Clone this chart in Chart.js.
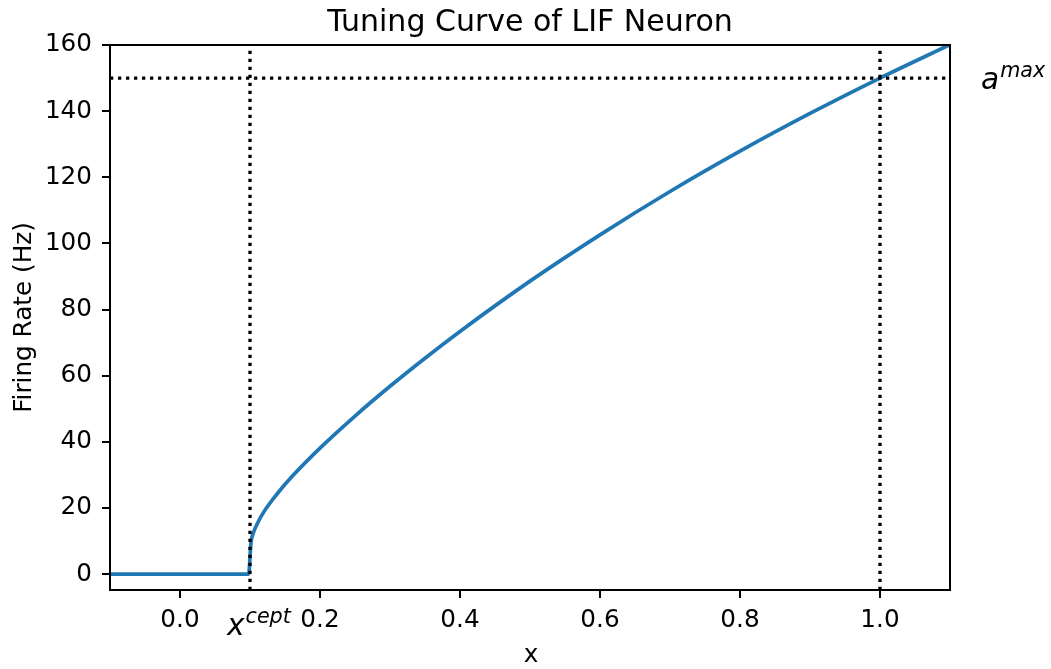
<!DOCTYPE html>
<html>
<head>
<meta charset="utf-8">
<script src="https://cdn.jsdelivr.net/npm/chart.js@4/dist/chart.umd.min.js"></script>
<style>
  html, body { margin: 0; padding: 0; background: #ffffff; }
  #wrap { width: 1051px; height: 669px; }
</style>
</head>
<body>
<div id="wrap"><canvas id="c" width="1051" height="669"></canvas></div>
<script>
// ---- data ----
const xInput = [-0.1, 0.098, 0.1015, 0.105, 0.11, 0.12, 0.14, 0.16, 0.2, 0.25, 0.3, 0.35, 0.4, 0.5, 0.6, 0.7, 0.8, 0.9, 1.0, 1.1];
const firingRate = [0, 0, 9.7, 12.6, 15.1, 18.9, 24.6, 29.5, 38.1, 47.8, 56.8, 65.3, 73.4, 88.6, 102.6, 115.7, 127.9, 139.3, 150.0, 160.1];
const xCept = 0.1;
const xMaxInput = 1.0;
const aMax = 150;
const xTicks = [0.0, 0.2, 0.4, 0.6, 0.8, 1.0];
const yTicks = [0, 20, 40, 60, 80, 100, 120, 140, 160];
const xRange = [-0.1, 1.1];
const yRange = [-4.8, 160];

const FONT = "'DejaVu Sans', sans-serif";

const curve = xInput.map((x, i) => ({ x: x, y: firingRate[i] }));
const vLine1 = [{ x: xCept, y: yRange[0] }, { x: xCept, y: yRange[1] }];
const vLine2 = [{ x: xMaxInput, y: yRange[0] }, { x: xMaxInput, y: yRange[1] }];
const hLine = [{ x: xRange[0], y: aMax }, { x: xRange[1], y: aMax }];

const dotted = {
  borderColor: '#000000', borderWidth: 3.3, borderDash: [3.3, 4.7], borderCapStyle: 'butt',
  pointRadius: 0, fill: false, tension: 0, order: 0
};

const textPlugin = {
  id: 'texts',
  afterDraw(chart) {
    const ctx = chart.ctx;
    const a = chart.chartArea;
    const xs = chart.scales.x, ys = chart.scales.y;
    ctx.save();
    // frame (top & right spines)
    ctx.strokeStyle = '#000'; ctx.lineWidth = 2;
    ctx.strokeRect(a.left, a.top, a.right - a.left, a.bottom - a.top);
    ctx.fillStyle = '#000';
    // title
    ctx.font = '30px ' + FONT;
    ctx.textAlign = 'center'; ctx.textBaseline = 'alphabetic';
    ctx.fillText('Tuning Curve of LIF Neuron', (a.left + a.right) / 2, 31);
    // x label
    ctx.font = '24.7px ' + FONT;
    ctx.fillText('x', (a.left + a.right) / 2 + 1, 662);
    // y label
    ctx.save();
    ctx.translate(31, (a.top + a.bottom) / 2);
    ctx.rotate(-Math.PI / 2);
    ctx.fillText('Firing Rate (Hz)', 0, 0);
    ctx.restore();
    // x^cept annotation
    ctx.textAlign = 'left';
    const xc = xs.getPixelForValue(xCept) - 23;
    ctx.font = 'italic 29.6px ' + FONT;
    ctx.fillText('x', xc, a.bottom + 45);
    let w = ctx.measureText('x').width;
    ctx.font = 'italic 20.7px ' + FONT;
    ctx.fillText('cept', xc + w + 1, a.bottom + 33);
    // a^max annotation
    const ya = ys.getPixelForValue(aMax);
    const xa = a.right + 31;
    ctx.font = 'italic 29.6px ' + FONT;
    ctx.fillText('a', xa, ya + 11);
    w = ctx.measureText('a').width;
    ctx.font = 'italic 20.7px ' + FONT;
    ctx.fillText('max', xa + w + 1, ya - 1);
    ctx.restore();
  }
};

new Chart(document.getElementById('c'), {
  type: 'line',
  data: {
    datasets: [
      { data: vLine1, ...dotted },
      { data: vLine2, ...dotted },
      { data: hLine, ...dotted },
      { data: curve, borderColor: '#1f77b4', borderWidth: 3.7, pointRadius: 0, fill: false,
        cubicInterpolationMode: 'monotone', order: 1 }
    ]
  },
  options: {
    responsive: false,
    animation: false,
    devicePixelRatio: 1,
    layout: { padding: { left: 0, right: 101, top: 45, bottom: 0 } },
    plugins: { legend: { display: false }, tooltip: { enabled: false }, title: { display: false } },
    scales: {
      x: {
        type: 'linear', min: xRange[0], max: xRange[1],
        afterFit(s) { s.height = 79; },
        afterBuildTicks(s) { s.ticks = xTicks.map(v => ({ value: v })); },
        grid: { display: true, drawOnChartArea: false, drawTicks: true, tickLength: 8, color: '#000', lineWidth: 2 },
        border: { display: true, color: '#000', width: 2 },
        ticks: { color: '#000', font: { family: FONT, size: 24.7 }, padding: 8, maxRotation: 0, autoSkip: false,
          callback: v => Number(v).toFixed(1) }
      },
      y: {
        type: 'linear', min: yRange[0], max: yRange[1],
        afterFit(s) { s.width = 110; },
        afterBuildTicks(s) { s.ticks = yTicks.map(v => ({ value: v })); },
        grid: { display: true, drawOnChartArea: false, drawTicks: true, tickLength: 8, color: '#000', lineWidth: 2 },
        border: { display: true, color: '#000', width: 2 },
        ticks: { color: '#000', font: { family: FONT, size: 24.7 }, padding: 10, autoSkip: false,
          callback: v => String(v) }
      }
    }
  },
  plugins: [textPlugin]
});
</script>
</body>
</html>
